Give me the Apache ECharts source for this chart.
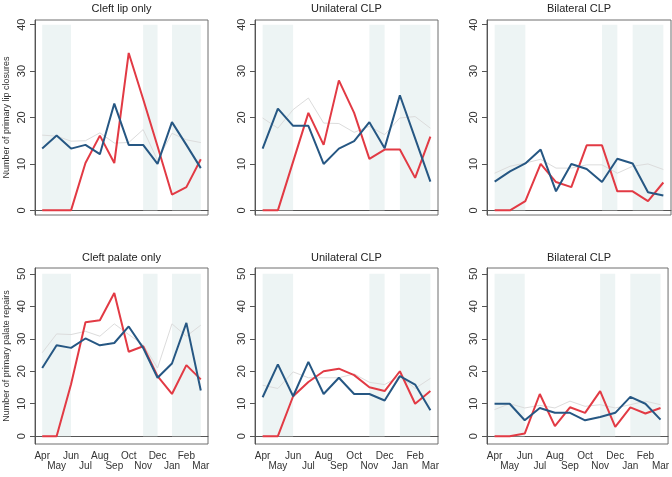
<!DOCTYPE html>
<html>
<head>
<meta charset="utf-8">
<script src="https://cdn.jsdelivr.net/npm/echarts@6/dist/echarts.min.js"></script>
<style>
  html, body { margin: 0; padding: 0; background: #fff; }
  #chart { width: 672px; height: 477px; }
</style>
</head>
<body>
<div id="chart"></div>
<script>
// 月份（从四月到次年三月）
const months = ['Apr', 'May', 'Jun', 'Jul', 'Aug', 'Sep', 'Oct', 'Nov', 'Dec', 'Jan', 'Feb', 'Mar']
const titles = ['Cleft lip only', 'Unilateral CLP', 'Bilateral CLP', 'Cleft palate only', 'Unilateral CLP', 'Bilateral CLP']
const yTitles = ['Number of primary lip closures', 'Number of primary palate repairs']
const lipTicks = [0, 10, 20, 30, 40]
const palateTicks = [0, 10, 20, 30, 40, 50]
// 阴影时间段
const shadedPeriods = [['Apr', 'Jun'], ['Nov', 'Dec'], ['Jan', 'Mar']]

// 上排：lip closures
const lipOnlyGrey = [16.2, 16, 14.9, 15, 16.7, 14.5, 14.6, 17.4, 10.8, 16.6, 15.2, 14.6]
const lipOnlyRed = [0, 0, 0, 10.2, 16.1, 10.2, 33.9, 24, 13.8, 3.4, 5, 11]
const lipOnlyBlue = [13.3, 16.1, 13.3, 14.1, 12.1, 23, 14.1, 14.1, 10, 19, 14.1, 9.1]

const lipUniGrey = [19.9, 17.7, 21.7, 24.2, 18.8, 18.7, 16.8, 18.1, 16.3, 19.9, 20.2, 17.7]
const lipUniRed = [0, 0, 10.5, 21, 14.1, 28, 21, 11.1, 13.1, 13.1, 7, 15.9]
const lipUniBlue = [13.3, 21.9, 18.2, 18.2, 10, 13.3, 14.9, 19, 13.4, 24.8, 15.5, 6.2]

const lipBiGrey = [8, 9.5, 10.2, 11, 9.1, 9.1, 9.8, 9.8, 8, 9.5, 10, 8.8]
const lipBiRed = [0, 0, 2, 10, 6.1, 5, 14, 14, 4.1, 4.1, 2, 6]
const lipBiBlue = [6.2, 8.4, 10.1, 13.1, 4.1, 10, 8.9, 6.1, 11.1, 10.1, 3.9, 3.2]

// 下排：palate repairs
const palOnlyGrey = [25.7, 31.5, 31.3, 32.3, 30.8, 34.6, 31.3, 28.2, 21, 34.6, 30.8, 34.2]
const palOnlyRed = [0, 0, 16, 35.1, 35.7, 44.1, 26, 27.7, 18.5, 13, 21.9, 17.5]
const palOnlyBlue = [21, 28, 27.2, 30.1, 28, 28.7, 33.8, 27.2, 18, 22.4, 34.9, 14.1]

const palUniGrey = [15.7, 14.7, 19.8, 18, 18, 18, 19.2, 16.6, 15.9, 18.5, 14.7, 17.8]
const palUniRed = [0, 0, 12.3, 16.7, 20, 20.8, 18.8, 15.1, 13.9, 20, 10, 13.9]
const palUniBlue = [12, 22.1, 12.3, 22.9, 13, 18, 13, 13, 11, 18.5, 15.9, 8]

const palBiGrey = [8.2, 10, 8.7, 9.5, 8.7, 10.8, 9.2, 9.7, 8.7, 9.7, 10.8, 9.7]
const palBiRed = [0, 0, 0.8, 13, 3.1, 8.9, 7.2, 13.9, 2.9, 8.9, 7, 8.7]
const palBiBlue = [10, 10, 4.9, 8.7, 7.2, 7.2, 4.9, 5.9, 7.2, 12.1, 10, 5.1]

const panelData = [
  [lipOnlyGrey, lipOnlyRed, lipOnlyBlue],
  [lipUniGrey, lipUniRed, lipUniBlue],
  [lipBiGrey, lipBiRed, lipBiBlue],
  [palOnlyGrey, palOnlyRed, palOnlyBlue],
  [palUniGrey, palUniRed, palUniBlue],
  [palBiGrey, palBiRed, palBiBlue]
]

// 布局
const cols = [{ left: 35, width: 173 }, { left: 255, width: 183 }, { left: 487, width: 184 }]
const rows = [
  { top: 20, height: 195, min: -1, max: 41, ticks: lipTicks, bandTop: 40, titleTop: 3 },
  { top: 268, height: 176, min: -2.4, max: 51.8, ticks: palateTicks, bandTop: 50, titleTop: 252 }
]
const font = 'Liberation Sans, Arial, sans-serif'
const lineColors = ['#dcdcdc', '#e23a44', '#265783']

const chart = echarts.init(document.getElementById('chart'))
const grid = [], xAxis = [], yAxis = [], series = [], title = []

for (let i = 0; i < 6; i++) {
  const r = rows[Math.floor(i / 3)]
  const c = cols[i % 3]
  const bottomRow = i >= 3
  grid.push({
    left: c.left, width: c.width, top: r.top, height: r.height,
    show: true, borderColor: '#6e6e6e', borderWidth: 1
  })
  title.push({
    text: titles[i],
    left: c.left + c.width / 2,
    textAlign: 'center',
    top: r.titleTop,
    padding: 0,
    textStyle: { fontFamily: font, fontSize: 11, fontWeight: 'normal', color: '#222' }
  })
  xAxis.push({
    type: 'category',
    gridIndex: i,
    data: months,
    boundaryGap: true,
    axisLine: { lineStyle: { color: '#555' } },
    axisTick: { alignWithLabel: true, interval: 0, length: 5, lineStyle: { color: '#555' } },
    axisLabel: {
      show: bottomRow,
      interval: 0,
      margin: 7,
      fontFamily: font,
      fontSize: 10,
      lineHeight: 10,
      color: '#333',
      formatter: (v, idx) => (idx % 2 ? '\n' + v : v)
    },
    splitLine: { show: false }
  })
  yAxis.push({
    type: 'value',
    gridIndex: i,
    min: r.min,
    max: r.max,
    name: i % 3 === 0 ? yTitles[Math.floor(i / 3)] : '',
    nameLocation: 'middle',
    nameGap: 24,
    nameTextStyle: { fontFamily: font, fontSize: 9, color: '#333' },
    axisLine: { show: true, lineStyle: { color: '#555' } },
    axisTick: { show: true, customValues: r.ticks, length: 5, lineStyle: { color: '#555' } },
    axisLabel: {
      customValues: r.ticks,
      rotate: 90,
      margin: 8,
      fontFamily: font,
      fontSize: 11,
      color: '#333'
    },
    splitLine: { show: false }
  })
  panelData[i].forEach((vals, k) => {
    const s = {
      type: 'line',
      xAxisIndex: i,
      yAxisIndex: i,
      data: vals,
      symbol: 'none',
      silent: true,
      lineStyle: { color: lineColors[k], width: k === 0 ? 1 : 2 },
      z: 2 + k
    }
    if (k === 0) {
      s.markArea = {
        silent: true,
        itemStyle: { color: '#edf4f4' },
        data: shadedPeriods.map(p => [
          { xAxis: p[0], yAxis: 0 },
          { xAxis: p[1], yAxis: r.bandTop }
        ])
      }
    }
    series.push(s)
  })
}

chart.setOption({
  animation: false,
  backgroundColor: '#fff',
  title, grid, xAxis, yAxis, series
})
</script>
</body>
</html>
